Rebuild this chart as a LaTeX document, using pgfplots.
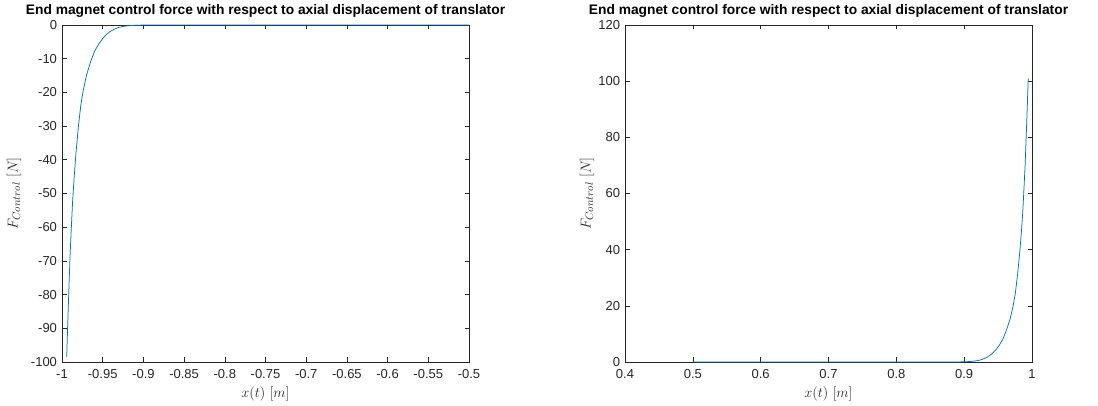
\documentclass[border=0pt]{standalone}
\usepackage{fontspec}
\setmainfont{Liberation Sans}
\usepackage{pgfplots}
\pgfplotsset{compat=1.18}
\definecolor{mlblue}{rgb}{0,0.447,0.741}
\definecolor{axgray}{rgb}{0.15,0.15,0.15}
\pgfplotsset{
  mlstyle/.style={
    scale only axis, width=407bp, height=337bp,
    anchor=south west,
    clip=false,
    axis line style={axgray, line width=0.6bp},
    every tick/.style={axgray, line width=0.6bp},
    major tick length=4.5bp,
    tick align=inside,
    ticklabel style={font=\fontsize{13bp}{15bp}\selectfont, text=axgray},
    xticklabel style={yshift=-4bp},
    yticklabel style={xshift=-1.5bp},
    /pgf/number format/assume math mode=true,
    title style={font=\bfseries\fontsize{13.8bp}{16bp}\selectfont, at={(0.5,1)}, anchor=south, inner sep=1bp},
    label style={font=\fontsize{15bp}{17bp}\selectfont, text=axgray},
    xlabel style={at={(0.5,0)}, anchor=center, yshift=-32bp},
    xlabel={$x(t)\ [m]$},
    ylabel={$F_{Control}\ [N]$},
    title={End magnet control force with respect to axial displacement of translator},
  }
}
\begin{document}
\begin{tikzpicture}
\useasboundingbox (0,0) rectangle (1098bp,406bp);
\begin{axis}[mlstyle, at={(62bp,44bp)},
  ylabel style={at={(0,0.5)}, anchor=center, rotate=0, yshift=48bp},
  xmin=-1, xmax=-0.5, ymin=-100, ymax=0,
  xtick={-1,-0.95,-0.9,-0.85,-0.8,-0.75,-0.7,-0.65,-0.6,-0.55,-0.5},
  xticklabels={-1,-0.95,-0.9,-0.85,-0.8,-0.75,-0.7,-0.65,-0.6,-0.55,-0.5},
  ytick={-100,-90,-80,-70,-60,-50,-40,-30,-20,-10,0},
  yticklabels={-100,-90,-80,-70,-60,-50,-40,-30,-20,-10,0},
]
\addplot[mlblue, line width=0.75bp] coordinates {
(-0.9942,-98.5) (-0.9930,-89) (-0.9915,-78) (-0.9900,-68) (-0.9885,-60)
(-0.9870,-52.5) (-0.9850,-45) (-0.9830,-38.5) (-0.9800,-30.5) (-0.9770,-24)
(-0.9740,-19.5) (-0.9700,-15) (-0.9650,-11) (-0.9600,-7.8) (-0.9550,-5.7)
(-0.9500,-4.0) (-0.9450,-2.7) (-0.9400,-1.8) (-0.9350,-1.15) (-0.9300,-0.7)
(-0.9250,-0.42) (-0.9200,-0.25) (-0.9100,-0.08) (-0.9000,-0.02) (-0.8800,0)
(-0.5,0)
};
\end{axis}
\begin{axis}[mlstyle, at={(625bp,44bp)},
  ylabel style={at={(0,0.5)}, anchor=center, rotate=0, yshift=38bp},
  xmin=0.4, xmax=1, ymin=0, ymax=120,
  xtick={0.4,0.5,0.6,0.7,0.8,0.9,1},
  xticklabels={0.4,0.5,0.6,0.7,0.8,0.9,1},
  ytick={0,20,40,60,80,100,120},
  yticklabels={0,20,40,60,80,100,120},
]
\addplot[mlblue, line width=0.75bp] coordinates {
(0.5,0) (0.8688,0) (0.8908,0.02) (0.9018,0.08) (0.9128,0.26) (0.9183,0.43)
(0.9238,0.72) (0.9293,1.2) (0.9348,1.85) (0.9403,2.8) (0.9458,4.1)
(0.9513,5.8) (0.9568,8) (0.9623,11.3) (0.9678,15.4) (0.9722,20)
(0.9755,24.6) (0.9788,31.3) (0.9821,39.5) (0.9843,46.1) (0.9865,53.8)
(0.9881,61.5) (0.9898,69.7) (0.9914,80) (0.9931,91.2) (0.9944,101)
};
\end{axis}
\end{tikzpicture}
\end{document}
